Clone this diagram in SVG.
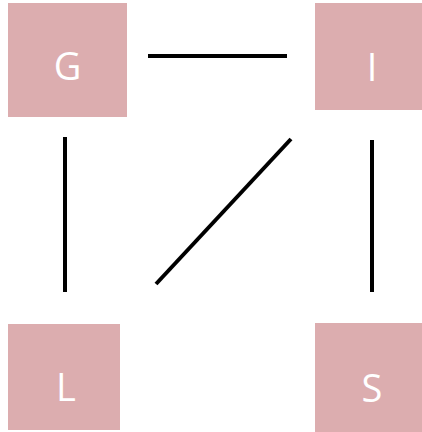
<svg xmlns="http://www.w3.org/2000/svg" width="422" height="432" viewBox="0 0 422 432">
<style>
.box{fill:#dcadaf}
.lbl{fill:#ffffff;font-family:"Open Sans","Noto Sans",sans-serif;font-size:38px;text-anchor:middle}
.edge{stroke:#000;stroke-width:4;fill:none}
</style>
<rect width="422" height="432" fill="#ffffff"/>
<g id="G"><rect class="box" x="8" y="3" width="119" height="114"/><text class="lbl" x="67.5" y="80">G</text></g>
<g id="I"><rect class="box" x="315" y="3" width="107" height="107"/><text class="lbl" x="372" y="81">I</text></g>
<g id="L"><rect class="box" x="8" y="324" width="112" height="106"/><text class="lbl" x="66" y="401">L</text></g>
<g id="S"><rect class="box" x="315" y="323" width="107" height="109"/><text class="lbl" x="372" y="402">S</text></g>
<g id="connectors">
<line class="edge" x1="148" y1="56" x2="287" y2="56"/>
<line class="edge" x1="65" y1="137" x2="65" y2="292"/>
<line class="edge" x1="372" y1="140" x2="372" y2="292"/>
<line class="edge" x1="291" y1="139" x2="156" y2="284"/>
</g>
</svg>
